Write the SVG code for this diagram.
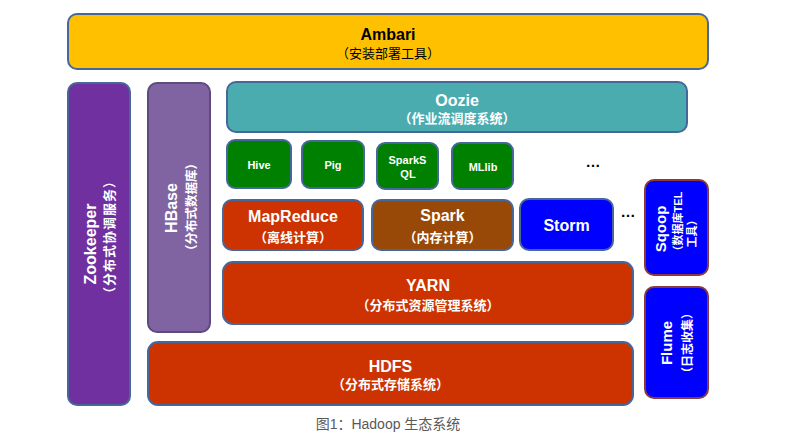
<svg xmlns="http://www.w3.org/2000/svg" width="808" height="446" viewBox="0 0 808 446">
<style>
text{font-family:'Liberation Sans','Noto Sans CJK SC',sans-serif;text-anchor:middle;font-weight:bold;fill:#fff}
.b{stroke:#47679A;stroke-width:2}
.t{font-size:16px}
.s{font-size:13px}
.g{font-size:11px}
.dk{fill:#000}
.dots{font-size:15px;fill:#000}
.cap{font-size:14px;font-weight:normal;fill:#595959}
</style>
<rect width="808" height="446" fill="#fff"/>
<g id="ambari">
<rect class="b" x="68" y="14" width="640" height="55" rx="9" fill="#FFC000"/>
<text class="t dk" x="388" y="40">Ambari</text>
<text class="s dk" x="388" y="58" style="font-weight:normal">（安装部署工具）</text>
</g>
<g id="zookeeper">
<rect class="b" x="68" y="83" width="62" height="322" rx="9" fill="#7030A0"/>
<text class="t" transform="translate(96,244) rotate(-90)">Zookeeper</text>
<text class="s" style="letter-spacing:1px" transform="translate(114,237) rotate(-90)">（分布式协调服务）</text>
</g>
<g id="hbase">
<rect x="148" y="83" width="62" height="249" rx="9" fill="#8064A2" stroke="#5E4A7E" stroke-width="2"/>
<text class="t" transform="translate(177,208) rotate(-90)">HBase</text>
<text style="font-size:12.5px" transform="translate(196,207) rotate(-90)">（分布式数据库）</text>
</g>
<g id="oozie">
<rect class="b" x="227" y="82" width="460" height="50" rx="9" fill="#4BACB0"/>
<text class="t" x="457" y="106">Oozie</text>
<text class="s" x="457" y="123">（作业流调度系统）</text>
</g>
<g id="hive">
<rect class="b" x="227" y="140" width="64" height="48" rx="8" fill="#008000"/>
<text class="g" x="259" y="169">Hive</text>
</g>
<g id="pig">
<rect class="b" x="302" y="141" width="62" height="47" rx="8" fill="#008000"/>
<text class="g" x="333" y="169">Pig</text>
</g>
<g id="sparksql">
<rect class="b" x="377" y="143" width="61" height="46" rx="8" fill="#008000"/>
<text class="g" x="407.5" y="164">SparkS</text>
<text class="g" x="408" y="178">QL</text>
</g>
<g id="mllib">
<rect class="b" x="452" y="143" width="61" height="46" rx="8" fill="#008000"/>
<text class="g" x="483" y="171">MLlib</text>
</g>
<g id="more1"><text class="dots" x="593" y="167">…</text></g>
<g id="mapreduce">
<rect class="b" x="223" y="200" width="140" height="50" rx="9" fill="#CC3300"/>
<text class="t" x="293" y="222">MapReduce</text>
<text class="s" x="293" y="242">（离线计算）</text>
</g>
<g id="spark">
<rect class="b" x="372" y="200" width="141" height="50" rx="9" fill="#984807"/>
<text class="t" x="442.5" y="221">Spark</text>
<text class="s" x="442.5" y="242">（内存计算）</text>
</g>
<g id="storm">
<rect class="b" x="520" y="199" width="93" height="51" rx="9" fill="#0000FF"/>
<text class="t" x="566.5" y="231">Storm</text>
</g>
<g id="more2"><text class="dots" x="628" y="217">…</text></g>
<g id="yarn">
<rect class="b" x="223" y="262" width="410" height="62" rx="10" fill="#CC3300"/>
<text class="t" x="428" y="291">YARN</text>
<text class="s" x="428" y="310">（分布式资源管理系统）</text>
</g>
<g id="hdfs">
<rect class="b" x="148" y="342" width="485" height="63" rx="10" fill="#CC3300"/>
<text class="t" x="390.5" y="372">HDFS</text>
<text class="s" x="390.5" y="389">（分布式存储系统）</text>
</g>
<g id="sqoop">
<rect x="645" y="180" width="63" height="95" rx="9" fill="#0000FF" stroke="#8B3A3A" stroke-width="2"/>
<text style="font-size:15px" transform="translate(666,229) rotate(-90)">Sqoop</text>
<text style="font-size:11px" transform="translate(682,224) rotate(-90)">（数据库TEL</text>
<text style="font-size:11px" transform="translate(696,231) rotate(-90)">工具）</text>
</g>
<g id="flume">
<rect x="645" y="287" width="63" height="111" rx="9" fill="#0000FF" stroke="#8B3A3A" stroke-width="2"/>
<text style="font-size:15px" transform="translate(672,343) rotate(-90)">Flume</text>
<text style="font-size:12px" transform="translate(692,343) rotate(-90)">（日志收集）</text>
</g>
<g id="connectors"></g>
<text class="cap" x="388" y="429">图1：Hadoop 生态系统</text>
</svg>
